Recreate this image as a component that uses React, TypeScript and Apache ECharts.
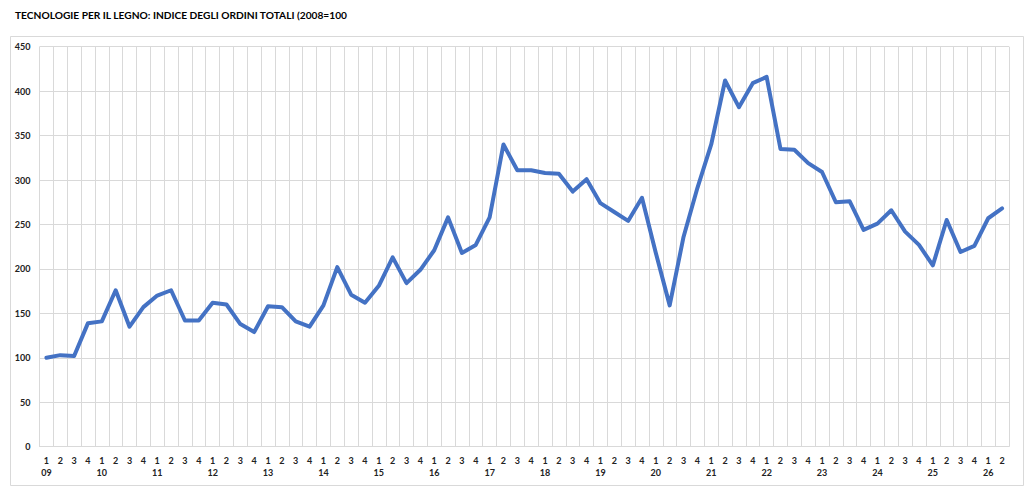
import React, { useEffect, useRef } from "react";
import * as echarts from "echarts";

const TITLE = "TECNOLOGIE PER IL LEGNO: INDICE DEGLI ORDINI TOTALI (2008=100";
const years = ["09", "10", "11", "12", "13", "14", "15", "16", "17", "18", "19", "20", "21", "22", "23", "24", "25", "26"];
const quarters = ["1", "2", "3", "4"];
const lastYearQuarters = 2;

const orderIndex = [
  100, 103, 102, 139,
  141, 176, 135, 157,
  170, 176, 142, 142,
  162, 160, 138, 129,
  158, 157, 141, 135,
  159, 202, 171, 162,
  181, 213, 184, 199,
  221, 258, 218, 227,
  258, 340, 311, 311,
  308, 307, 287, 301,
  274, 264, 254, 280,
  218, 159, 236, 291,
  340, 412, 382, 409,
  416, 335, 334, 319,
  309, 275, 276, 244,
  251, 266, 242, 227,
  204, 255, 219, 226,
  257, 268,
];

const yTicks = { min: 0, max: 450, interval: 50 };

function buildCategories(): string[] {
  const cats: string[] = [];
  years.forEach((y, yi) => {
    const n = yi === years.length - 1 ? lastYearQuarters : quarters.length;
    for (let q = 0; q < n; q++) {
      cats.push(q === 0 ? `${quarters[q]}\n${y}` : quarters[q]);
    }
  });
  return cats;
}

export default function App() {
  const ref = useRef<HTMLDivElement>(null);
  useEffect(() => {
    document.body.style.margin = "0";
    if (!ref.current) return;
    const chart = echarts.init(ref.current, undefined, { renderer: "svg" });
    const font = "Lato, 'Open Sans', sans-serif";
    chart.setOption({
      animation: false,
      backgroundColor: "#ffffff",
      textStyle: { fontFamily: font },
      title: {
        text: TITLE,
        left: 10,
        top: 5,
        textStyle: { fontFamily: font, fontSize: 10.2, fontWeight: "bold", color: "#000000" },
      },
      graphic: [
        {
          type: "rect",
          left: 8,
          top: 34,
          shape: { width: 1013, height: 449 },
          style: { fill: "none", stroke: "#d9d9d9", lineWidth: 1 },
          silent: true,
          z: -1,
        },
      ],
      grid: { left: 39.5, right: 15, top: 46.7, bottom: 39.3, containLabel: false },
      xAxis: {
        type: "category",
        data: buildCategories(),
        boundaryGap: true,
        axisLine: { show: true, lineStyle: { color: "#d9d9d9", width: 1 } },
        axisTick: { show: false },
        axisLabel: {
          interval: 0,
          margin: 8,
          fontSize: 9,
          fontWeight: "bold",
          color: "#222222",
          lineHeight: 12,
          fontFamily: font,
        },
        splitLine: { show: true, interval: 0, lineStyle: { color: "#d9d9d9", width: 1 } },
      },
      yAxis: {
        type: "value",
        min: yTicks.min,
        max: yTicks.max,
        interval: yTicks.interval,
        axisLine: { show: false },
        axisTick: { show: false },
        axisLabel: { margin: 9, fontSize: 9, fontWeight: "bold", color: "#222222", fontFamily: font },
        splitLine: { show: true, lineStyle: { color: "#d9d9d9", width: 1 } },
      },
      series: [
        {
          type: "line",
          data: orderIndex,
          symbol: "none",
          lineStyle: { color: "#4472c4", width: 4, join: "round", cap: "round" },
          itemStyle: { color: "#4472c4" },
        },
      ],
    });
    return () => chart.dispose();
  }, []);
  return <div ref={ref} style={{ width: 1024, height: 486 }} />;
}
